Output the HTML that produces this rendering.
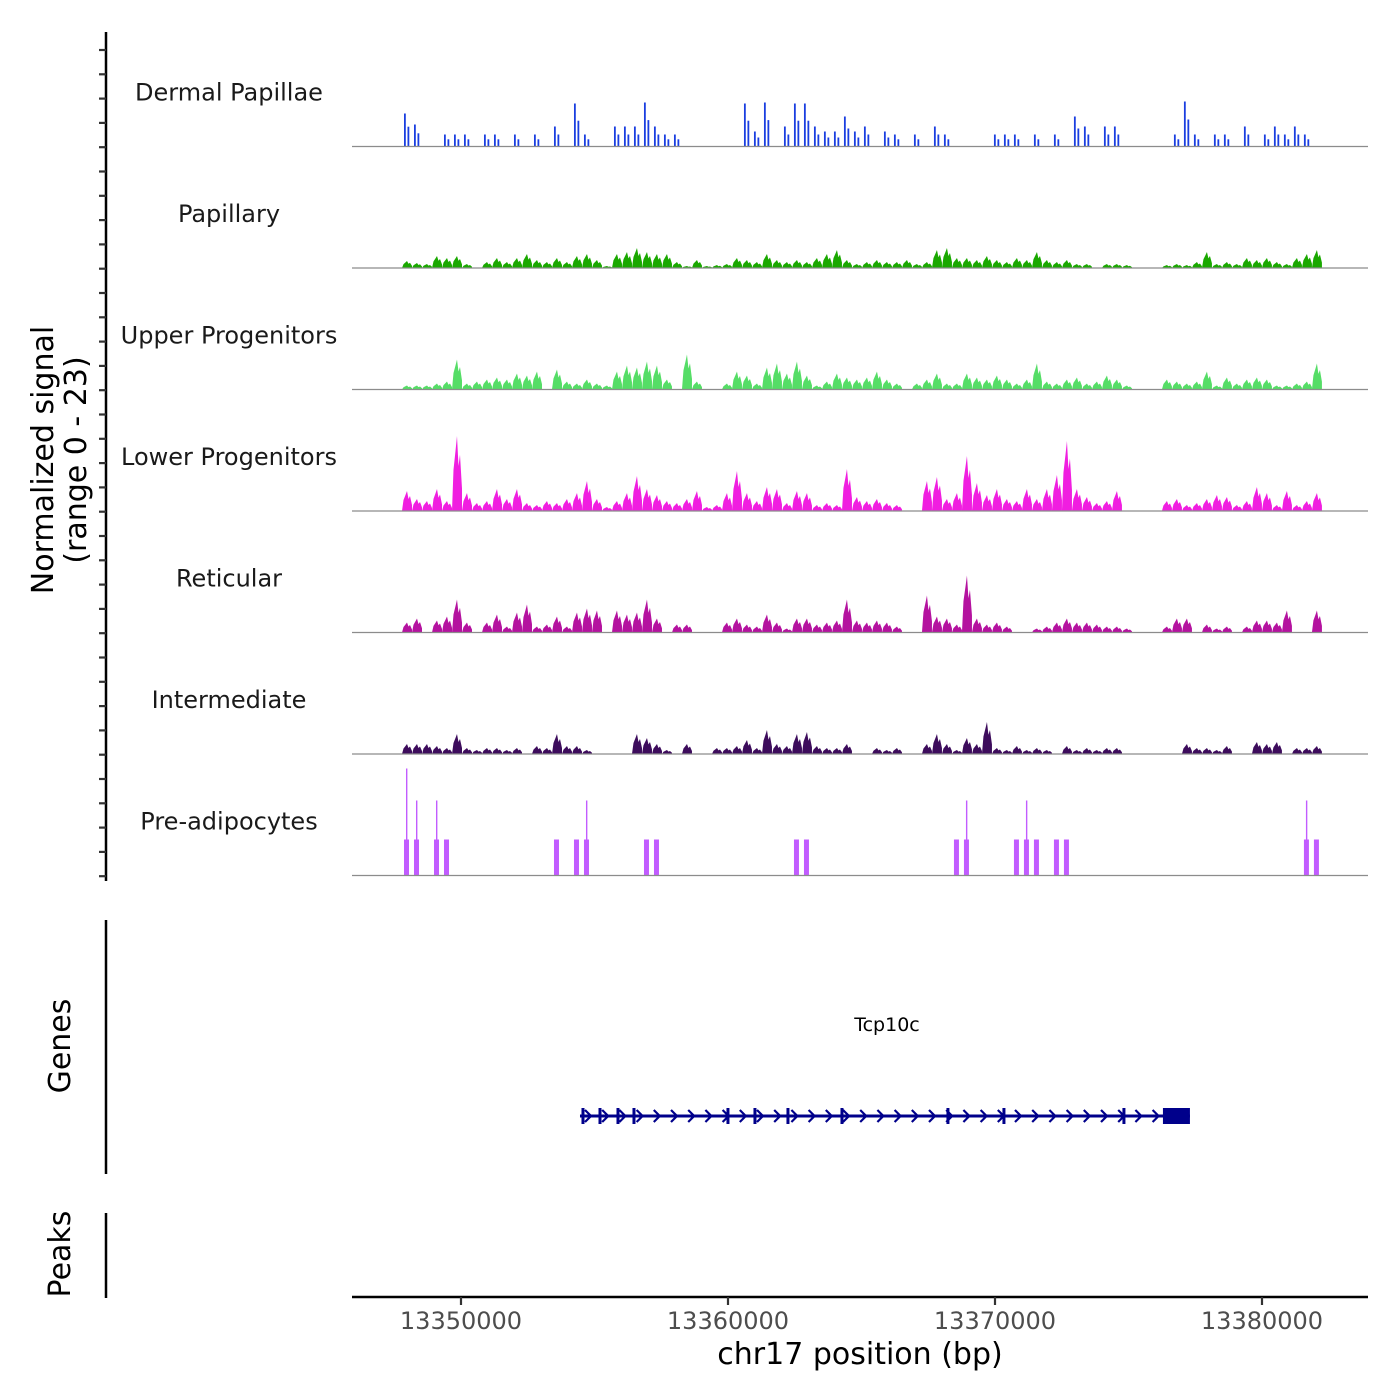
<!DOCTYPE html>
<html><head><meta charset="utf-8">
<style>
html,body{margin:0;padding:0;background:#fff;}
svg{display:block;font-family:"DejaVu Sans","Liberation Sans",sans-serif;}
</style></head>
<body>
<svg id="chart" width="1400" height="1400" viewBox="0 0 1400 1400" xmlns="http://www.w3.org/2000/svg">
<rect width="1400" height="1400" fill="#fff"/>
<g id="tracks"></g>
<g id="yaxis"></g>
<text transform="translate(53,460) rotate(-90)" text-anchor="middle" font-size="30" fill="#000">Normalized signal</text>
<text transform="translate(86,460) rotate(-90)" text-anchor="middle" font-size="30" fill="#000">(range 0 - 23)</text>
<line x1="106" y1="920" x2="106" y2="1174" stroke="#000" stroke-width="2.5"/>
<text transform="translate(70,1046) rotate(-90)" text-anchor="middle" font-size="30" fill="#000">Genes</text>
<line x1="106" y1="1213" x2="106" y2="1298" stroke="#000" stroke-width="2.5"/>
<text transform="translate(70,1254) rotate(-90)" text-anchor="middle" font-size="30" fill="#000">Peaks</text>
<g id="genes"></g>
<g id="xaxis"></g>
<text x="860" y="1364" text-anchor="middle" font-size="30" fill="#000">chr17 position (bp)</text>
</svg>
<script>
const NS="http://www.w3.org/2000/svg";
const binStart=13345918;
const binSize=374.5;
const xDomain=[13345918,13383970];
const yMax=23;
const trackNames=["Dermal Papillae","Papillary","Upper Progenitors","Lower Progenitors","Reticular","Intermediate","Pre-adipocytes"];
const trackColors=["#1a3ee0","#1aa800","#55dd66","#f01ee0","#b4129f","#3d0c5c","#c25cff"];
const dermalPapillae=[0,0,0,0,0,6.6,4.4,0,0,2.4,
 2.4,2.4,0,2.4,2.4,0,2.4,0,2.4,0,
 4,0,8.6,2.4,0,0,4,4,4,8.8,
 4,2.4,2.4,0,0,0,0,0,0,8.6,
 3,8.8,0,4,8.6,8.6,4,3,3,6,
 3,4,0,3,2.4,0,2.4,0,4,2.4,
 0,0,0,0,2.4,2.4,2.4,0,2.4,0,
 2.4,0,6,4,0,4,4,0,0,0,
 0,0,2.4,9,2.4,0,2.4,2.4,0,4,
 0,2.4,4,2.4,4,2.4,0,0,0,0,
 0,0];
const papillary=[0,0,0,0,0,1.4,1,0.8,2.4,2,
 2.4,0.8,0,1.2,2,1.2,2,2.8,1.6,1.2,
 2,1.2,2.4,2.8,1.6,0.4,2.8,3.2,4,3.2,
 2.8,2.8,1.2,0.4,1.6,0.4,0.6,0.8,2,1.6,
 1.2,2.8,1.6,1.2,1.6,1.2,2,2.8,3.6,1.6,
 0.8,1.2,1.6,1.2,1.2,1.6,0.8,1.2,3.6,4,
 2,2,1.6,2.4,1.6,1.2,2,1.6,3.2,1.6,
 1.2,1.6,0.8,0.8,0,0.8,0.8,0.6,0,0,
 0,0.6,0.8,0.6,1.2,3.2,0.8,1.2,0.8,2,
 1.6,2,1.2,0.8,2,2.8,3.6,0,0,0,
 0,0];
const upperProgenitors=[0,0,0,0,0,0.8,0.8,0.8,1.2,1.6,
 6,1.2,1.6,2,2.4,2,3.2,2.8,3.6,0,
 4,1.6,1.2,2,1.2,0.8,3.6,4.8,4.4,5.6,
 4.8,2,0,7,1.6,0,0,1.2,3.6,2.8,
 1.2,4.4,5.2,3.2,5.6,2.8,0.8,1.6,3.2,2.4,
 2,2.4,3.6,2,1.2,0,1.2,2,3.2,1.2,
 1.2,3.2,2.4,2,2.8,2,1.2,2,5.2,1.6,
 1.2,2,2.4,1.2,1.6,2.8,2,0.8,0,0,
 0,2,1.6,1.2,1.6,3.6,0.8,2.4,1.2,2,
 2.4,2,0.8,0.8,1.2,1.6,5.2,0,0,0,
 0,0];
const lowerProgenitors=[0,0,0,0,0,4,2.4,2,4.4,2,
 15,3.6,1.6,2,4.4,2.4,4.4,1.6,1.2,2,
 1.6,2.4,3.6,6,2.4,0.8,2,3.6,7,4.4,
 3.2,2,1.6,2.4,4,0.8,1.2,3.6,8,3.6,
 2,4.8,4.4,1.6,4,3.6,1.2,1.6,1.2,8.4,
 2.8,2,2.4,1.6,1.2,0,0,6,6.8,2.4,
 3.6,11,5.6,3.2,4.4,2.4,2,4.4,2.4,4.4,
 7.2,14,4.4,2.8,1.6,2,4,0,0,0,
 0,2,2.4,1.2,1.6,2.4,3.2,2.8,1.2,2,
 4.8,3.6,1.2,4,1.2,2,3.6,0,0,0,
 0,0];
const reticular=[0,0,0,0,0,2,2.8,0,2.4,3.2,
 6.6,2,0,2,3.6,1.2,4,5.6,1.2,1.6,
 3.2,1.2,4,4.8,4.4,0,4.4,3.6,4,6.6,
 2.8,0,1.6,1.6,0,0,0,2,2.8,1.6,
 1.2,3.6,2,0.8,2.8,2.8,1.6,2,2.4,6.6,
 2.4,2,2.4,2,1.2,0,0,7.4,3.2,2.8,
 1.6,11.4,2.8,1.6,2,1.2,0,0,0.8,1.2,
 2,2.8,2,2,1.6,1.2,1.2,0.8,0,0,
 0,1.2,2.8,2.8,0,1.6,0.8,1.2,0,1.2,
 2.4,2.4,2,4.4,0,0,4.4,0,0,0,
 0,0];
const intermediate=[0,0,0,0,0,2,2,2,1.6,1.2,
 4,1.2,0.8,1.2,1.2,0.8,1.2,0,1.6,1.2,
 4,1.6,1.6,0.8,0,0,0,0,4,3.2,
 2,0.8,0,2,0,0,1.2,1.2,1.6,2.8,
 1.2,4.8,2,1.6,4,4.4,1.6,1.2,1.2,2,
 0,0,1.2,0.8,1.2,0,0,2,4,2,
 0.8,3.2,2,6.4,1.2,0.8,1.6,0.8,1.2,0.8,
 0,1.6,0.8,1.2,0.8,1.2,1.2,0,0,0,
 0,0,0,2,1.2,1.2,0.8,1.6,0,0,
 2.4,2,2.4,0,1.2,1.2,1.6,0,0,0,
 0,0];
const preAdipocytes=[0,0,0,0,0,21.4,15,0,15,7.2,
 0,0,0,0,0,0,0,0,0,0,
 7.2,0,7.2,15,0,0,0,0,0,7.2,
 7.2,0,0,0,0,0,0,0,0,0,
 0,0,0,0,7.2,7.2,0,0,0,0,
 0,0,0,0,0,0,0,0,0,0,
 7.2,15,0,0,0,0,7.2,15,7.2,0,
 7.2,7.2,0,0,0,0,0,0,0,0,
 0,0,0,0,0,0,0,0,0,0,
 0,0,0,0,0,15,7.2,0,0,0,
 0,0];
const xTicks=[13350000,13360000,13370000,13380000];
const xTickLabels=["13350000","13360000","13370000","13380000"];
const geneName="Tcp10c";
const geneStart=13354457;
const geneEnd=13377301;
const utrStart=13376290;
const exonPositions=[13354569,13355206,13355880,13356479,13359999,13361010,13362246,13364269,13368238,13370335,13374829];

const PX0=352,PX1=1368;
function xs(bp){return PX0+(bp-xDomain[0])/(xDomain[1]-xDomain[0])*(PX1-PX0);}
const trackTop=30, trackH=121.5, plotH=115;
function baseY(t){return trackTop+trackH*(t+1)-5;}
function ys(t,v){return baseY(t)-v/yMax*plotH;}
function mk(tag,attrs,parent){const e=document.createElementNS(NS,tag);for(const k in attrs)e.setAttribute(k,attrs[k]);parent.appendChild(e);return e;}

const series=[dermalPapillae,papillary,upperProgenitors,lowerProgenitors,reticular,intermediate,preAdipocytes];
const tg=document.getElementById('tracks');
series.forEach((vals,t)=>{
  const g=mk('g',{},tg);
  
  
  const b=baseY(t);
  const lbl=mk('text',{x:229,y:b-46,'text-anchor':'middle','font-size':24,fill:'#1a1a1a'},g);
  lbl.textContent=trackNames[t];
  
  
  const col=trackColors[t];
  if(t===0){
    vals.forEach((v,i)=>{ if(v<=0)return;
      const x0=xs(binStart+i*binSize);
      const r=mk('rect',{x:x0+2,y:ys(t,v),width:1.8,height:b-ys(t,v),fill:col},g);
      
      
      const r2=mk('rect',{x:x0+5.5,y:ys(t,v*0.6),width:1.8,height:b-ys(t,v*0.6),fill:col},g);
      
      
    });
  } else if(t===6){
    vals.forEach((v,i)=>{ if(v<=0)return;
      const x0=xs(binStart+i*binSize);
      const cap=Math.min(v,7.2);
      const r=mk('rect',{x:x0+2,y:ys(t,cap),width:5,height:b-ys(t,cap),fill:col},g);
      
      
      if(v>cap){
        const s=mk('rect',{x:x0+4,y:ys(t,v),width:1.4,height:b-ys(t,v),fill:col},g);
        
        
      }
    });
  } else {
    let d='';
    vals.forEach((v,i)=>{ if(v<=0)return;
      const x0=xs(binStart+i*binSize), x1=xs(binStart+(i+1)*binSize), w=x1-x0;
      d+='M'+x0+','+b+' L'+(x0+w*0.15)+','+ys(t,v*0.55)+' L'+(x0+w*0.35)+','+ys(t,v*0.8)+' L'+(x0+w*0.5)+','+ys(t,v)+' L'+(x0+w*0.65)+','+ys(t,v*0.6)+' L'+(x0+w*0.8)+','+ys(t,v*0.75)+' L'+x1+','+ys(t,v*0.3)+' L'+x1+','+b+' Z ';
    });
    const p=mk('path',{d:d,fill:col},g);
    
    
  }
  const bl=mk('line',{x1:PX0,y1:b,x2:PX1,y2:b,stroke:'#8c8c8c','stroke-width':1.2},g);
  
  
});

const ya=document.getElementById('yaxis');
const yl=mk('line',{x1:106,y1:32,x2:106,y2:881,stroke:'#000','stroke-width':2.5},ya);


for(let y=50;y<=880;y+=24.3){
  const tk=mk('line',{x1:99,y1:y,x2:106,y2:y,stroke:'#333','stroke-width':2.2},ya);
  
  
}

const gg=document.getElementById('genes');
const gy=1116;
const gl=mk('text',{x:887,y:1031,'text-anchor':'middle','font-size':19,fill:'#000'},gg);
gl.textContent=geneName;


const line=mk('line',{x1:xs(geneStart),y1:gy,x2:xs(geneEnd),y2:gy,stroke:'#00008b','stroke-width':3},gg);


for(let x=xs(geneStart)+8;x<xs(utrStart)-4;x+=17.2){
  const a=mk('path',{d:'M'+(x-3)+','+(gy-6)+' L'+(x+3)+','+gy+' L'+(x-3)+','+(gy+6),fill:'none',stroke:'#00008b','stroke-width':2.2},gg);
  
  
}
exonPositions.forEach(p=>{
  const e=mk('rect',{x:xs(p)-1.5,y:gy-8,width:3,height:16,fill:'#00008b'},gg);
  
  
});
const utr=mk('rect',{x:xs(utrStart),y:gy-8,width:xs(geneEnd)-xs(utrStart),height:16,fill:'#00008b'},gg);



const xa=document.getElementById('xaxis');
const xl=mk('line',{x1:PX0,y1:1297,x2:PX1,y2:1297,stroke:'#000','stroke-width':2.5},xa);


xTicks.forEach((v,i)=>{
  const x=xs(v);
  const tk=mk('line',{x1:x,y1:1297,x2:x,y2:1305,stroke:'#333','stroke-width':2.2},xa);
  
  
  const tl=mk('text',{x:x,y:1329,'text-anchor':'middle','font-size':24,fill:'#4d4d4d'},xa);
  tl.textContent=xTickLabels[i];
  
  
});
</script>
</body></html>
